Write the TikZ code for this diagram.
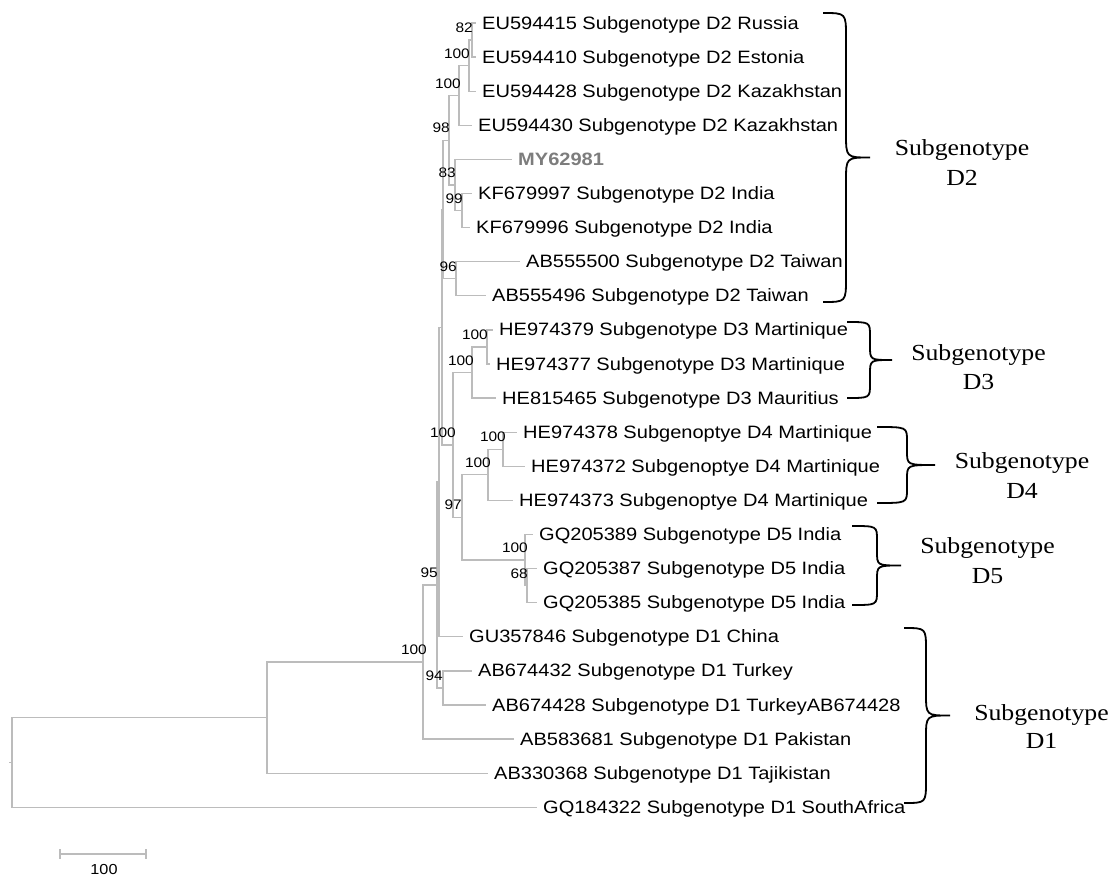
\documentclass[tikz,border=0pt]{standalone}
\usepackage{fontspec}
\usetikzlibrary{calc}
\newfontfamily\leaffont[FakeStretch=1.12]{Liberation Sans}
\newfontfamily\grpfont[FakeStretch=1.12]{Liberation Serif}
\definecolor{treegray}{RGB}{188,188,188}
\definecolor{mygray}{RGB}{125,125,125}
\newcommand{\curlybrace}[6]{% x0, ytop, ybot, xv, xtip, r
  \draw[bracestyle] (#1,#2) .. controls (#4,#2) .. (#4,#2+#6)
    -- (#4,{(#2+#3)/2-#6}) .. controls (#4,{(#2+#3)/2}) .. (#5,{(#2+#3)/2})
    .. controls (#4,{(#2+#3)/2}) .. (#4,{(#2+#3)/2+#6})
    -- (#4,#3-#6) .. controls (#4,#3) .. (#1,#3);}
\begin{document}
\begin{tikzpicture}[x=1pt,y=-1pt,
  tree/.style={draw=treegray, line width=1.3pt},
  bracestyle/.style={draw=black, line width=1.8pt},
  leaf/.style={anchor=base west, inner sep=0pt, font=\leaffont\fontsize{17.9}{20}\selectfont},
  bs/.style={anchor=base east, inner sep=0pt, font=\leaffont\fontsize{13.8}{15}\selectfont},
  grp/.style={anchor=base, inner sep=0pt, font=\grpfont\fontsize{23}{28}\selectfont}]
\useasboundingbox (0,0) rectangle (1114,876);
% leaf tips
\coordinate (c1) at (476,23);
\coordinate (c2) at (476,57.1);
\coordinate (c3) at (476,91.2);
\coordinate (c4) at (472,125.3);
\coordinate (c5) at (512,159.4);
\coordinate (c6) at (472,193.5);
\coordinate (c7) at (470,227.6);
\coordinate (c8) at (520,261.7);
\coordinate (c9) at (486,295.8);
\coordinate (c10) at (493,329.9);
\coordinate (c11) at (490,364);
\coordinate (c12) at (496,398.1);
\coordinate (c13) at (517,432.2);
\coordinate (c14) at (525,466.3);
\coordinate (c15) at (513,500.4);
\coordinate (c16) at (533,534.5);
\coordinate (c17) at (537,568.6);
\coordinate (c18) at (537,602.7);
\coordinate (c19) at (463,636.8);
\coordinate (c20) at (472,670.9);
\coordinate (c21) at (486,705);
\coordinate (c22) at (514,739.1);
\coordinate (c23) at (488,773.2);
\coordinate (c24) at (537,807.3);
% internal nodes
\coordinate (n82) at (472,40.05);
\coordinate (n100a) at (469,65.6);
\coordinate (n100b) at (459,95.5);
\coordinate (n99) at (462,210.55);
\coordinate (n83) at (455,185);
\coordinate (n98) at (449,140.25);
\coordinate (n96) at (456,278.75);
\coordinate (nX) at (443,209.5);
\coordinate (n100c) at (487,347);
\coordinate (n100d) at (472,372.5);
\coordinate (n100e) at (503,449.25);
\coordinate (n100f) at (488,474.8);
\coordinate (n68) at (527,585.65);
\coordinate (n100g) at (525,560.1);
\coordinate (n97) at (462,517.45);
\coordinate (n100h) at (453,445);
\coordinate (nY) at (442,327.25);
\coordinate (nV) at (439,482);
\coordinate (n94) at (443,688);
\coordinate (n95) at (437,585);
\coordinate (n100i) at (423,662);
\coordinate (nR1) at (267,717.6);
\coordinate (root) at (12,762.45);
\coordinate (rootl) at (9,762.45);
% branches
\draw[tree] (n82) |- (c1) (n82) |- (c2)
  (n100a) |- (n82) (n100a) |- (c3)
  (n100b) |- (n100a) (n100b) |- (c4)
  (n99) |- (c6) (n99) |- (c7)
  (n83) |- (c5) (n83) |- (n99)
  (n98) |- (n100b) (n98) |- (n83)
  (n96) |- (c8) (n96) |- (c9)
  (nX) |- (n98) (nX) |- (n96)
  (n100c) |- (c10) (n100c) |- (c11)
  (n100d) |- (n100c) (n100d) |- (c12)
  (n100e) |- (c13) (n100e) |- (c14)
  (n100f) |- (n100e) (n100f) |- (c15)
  (n68) |- (c17) (n68) |- (c18)
  (n100g) |- (c16) (n100g) |- (n68)
  (n97) |- (n100f) (n97) |- (n100g)
  (n100h) |- (n100d) (n100h) |- (n97)
  (nY) |- (nX) (nY) |- (n100h)
  (nV) |- (nY) (nV) |- (c19)
  (n94) |- (c20) (n94) |- (c21)
  (n95) |- (nV) (n95) |- (n94)
  (n100i) |- (n95) (n100i) |- (c22)
  (nR1) |- (n100i) (nR1) |- (c23)
  (root) |- (nR1) (root) |- (c24)
  (root) -- (rootl);
% bootstrap values
\node[bs] (b82) at ($(n82)+(1,-7.5)$) {82};
\node[bs] (b100a) at ($(n100a)+(1,-7.5)$) {100};
\node[bs] (b100b) at ($(n100b)+(2,-7.5)$) {100};
\node[bs] (b98) at ($(n98)+(1,-7.5)$) {98};
\node[bs] (b83) at ($(n83)+(1,-7.5)$) {83};
\node[bs] (b99) at ($(n99)+(1,-7.5)$) {99};
\node[bs] (b96) at ($(n96)+(1,-7.5)$) {96};
\node[bs] (b100c) at ($(n100c)+(1,-7.5)$) {100};
\node[bs] (b100d) at ($(n100d)+(2,-7.5)$) {100};
\node[bs] (b100h) at ($(n100h)+(3,-7.5)$) {100};
\node[bs] (b100e) at ($(n100e)+(3,-7.5)$) {100};
\node[bs] (b100f) at ($(n100f)+(3,-7.5)$) {100};
\node[bs] (b97) at ($(n97)+(0,-7.5)$) {97};
\node[bs] (b100g) at ($(n100g)+(3,-7.5)$) {100};
\node[bs] (b68) at ($(n68)+(1,-7.5)$) {68};
\node[bs] (b95) at ($(n95)+(1,-7.5)$) {95};
\node[bs] (b100i) at ($(n100i)+(4,-7.5)$) {100};
\node[bs] (b94) at ($(n94)+(0,-7.5)$) {94};
% leaf labels
\node[leaf] (t1) at ($(c1)+(6,6)$) {EU594415 Subgenotype D2 Russia};
\node[leaf] (t2) at ($(c2)+(6,6)$) {EU594410 Subgenotype D2 Estonia};
\node[leaf] (t3) at ($(c3)+(6,6)$) {EU594428 Subgenotype D2 Kazakhstan};
\node[leaf] (t4) at ($(c4)+(6,6)$) {EU594430 Subgenotype D2 Kazakhstan};
\node[leaf, text=mygray] (t5) at ($(c5)+(6,6)$) {\bfseries MY62981};
\node[leaf] (t6) at ($(c6)+(6,6)$) {KF679997 Subgenotype D2 India};
\node[leaf] (t7) at ($(c7)+(6,6)$) {KF679996 Subgenotype D2 India};
\node[leaf] (t8) at ($(c8)+(6,6)$) {AB555500 Subgenotype D2 Taiwan};
\node[leaf] (t9) at ($(c9)+(6,6)$) {AB555496 Subgenotype D2 Taiwan};
\node[leaf] (t10) at ($(c10)+(6,6)$) {HE974379 Subgenotype D3 Martinique};
\node[leaf] (t11) at ($(c11)+(6,6)$) {HE974377 Subgenotype D3 Martinique};
\node[leaf] (t12) at ($(c12)+(6,6)$) {HE815465 Subgenotype D3 Mauritius};
\node[leaf] (t13) at ($(c13)+(6,6)$) {HE974378 Subgenoptye D4 Martinique};
\node[leaf] (t14) at ($(c14)+(6,6)$) {HE974372 Subgenoptye D4 Martinique};
\node[leaf] (t15) at ($(c15)+(6,6)$) {HE974373 Subgenoptye D4 Martinique};
\node[leaf] (t16) at ($(c16)+(6,6)$) {GQ205389 Subgenotype D5 India};
\node[leaf] (t17) at ($(c17)+(6,6)$) {GQ205387 Subgenotype D5 India};
\node[leaf] (t18) at ($(c18)+(6,6)$) {GQ205385 Subgenotype D5 India};
\node[leaf] (t19) at ($(c19)+(6,6)$) {GU357846 Subgenotype D1 China};
\node[leaf] (t20) at ($(c20)+(6,6)$) {AB674432 Subgenotype D1 Turkey};
\node[leaf] (t21) at ($(c21)+(6,6)$) {AB674428 Subgenotype D1 TurkeyAB674428};
\node[leaf] (t22) at ($(c22)+(6,6)$) {AB583681 Subgenotype D1 Pakistan};
\node[leaf] (t23) at ($(c23)+(6,6)$) {AB330368 Subgenotype D1 Tajikistan};
\node[leaf] (t24) at ($(c24)+(6,6)$) {GQ184322 Subgenotype D1 SouthAfrica};
% braces
\curlybrace{823}{13}{302}{846}{870}{24}
\curlybrace{847}{322}{398}{870}{892}{14}
\curlybrace{877}{427}{503}{907}{935}{14}
\curlybrace{852}{526}{605}{877}{901}{14}
\curlybrace{904}{628}{803}{926}{950}{22}
% group labels
\node[grp] (g2a) at (962,155) {Subgenotype};
\node[grp] (g2b) at (962,185) {D2};
\node[grp] (g3a) at (978.5,360) {Subgenotype};
\node[grp] (g3b) at (978.5,389) {D3};
\node[grp] (g4a) at (1022,468) {Subgenotype};
\node[grp] (g4b) at (1022,498) {D4};
\node[grp] (g5a) at (987.5,553) {Subgenotype};
\node[grp] (g5b) at (987.5,583) {D5};
\node[grp] (g1a) at (1041.5,720) {Subgenotype};
\node[grp] (g1b) at (1041.5,748) {D1};
% scale bar
\coordinate (sb1) at (60,854);
\coordinate (sb2) at (146,854);
\draw[tree] (sb1) -- (sb2);
\draw[tree] ($(sb1)+(0,-5)$) -- ($(sb1)+(0,5)$);
\draw[tree] ($(sb2)+(0,-5)$) -- ($(sb2)+(0,5)$);
\node[bs, anchor=base, font=\leaffont\fontsize{14.5}{16}\selectfont] (sbl) at (104,874) {100};
\end{tikzpicture}
\end{document}
